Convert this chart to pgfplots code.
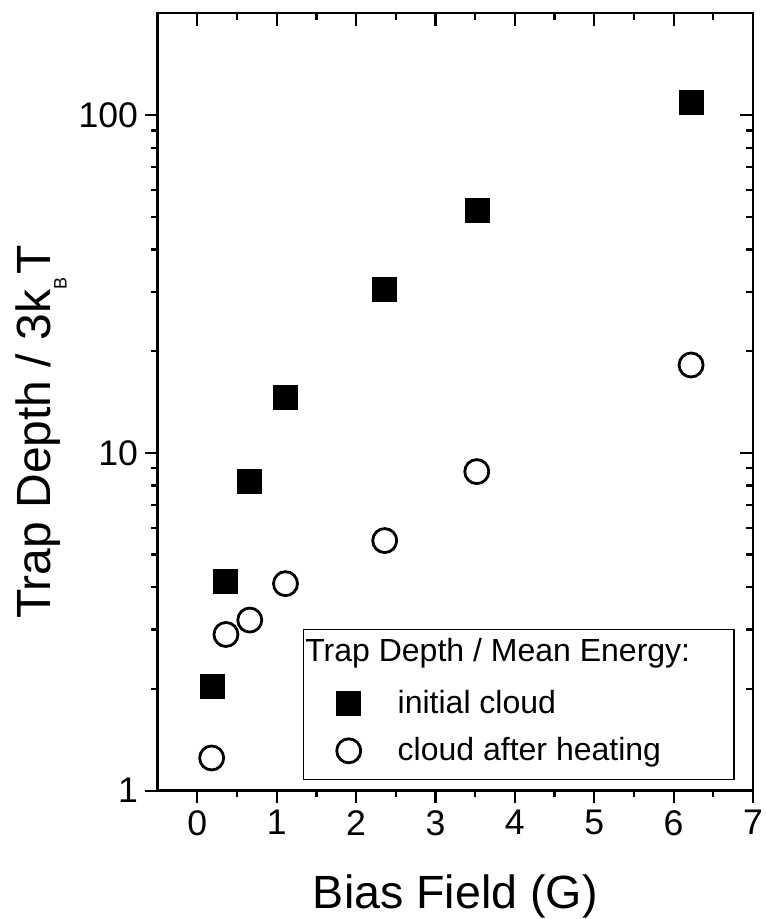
\documentclass[border=0pt]{standalone}
\usepackage{pgfplots}
\pgfplotsset{compat=1.18}
\usepackage{fontspec}
\setmainfont{Liberation Sans}

\pgfplotstableread{
x y
0.19 2.04
0.36 4.17
0.66 8.2
1.11 14.6
2.36 30.4
3.53 52
6.22 109
}\initial
\pgfplotstableread{
x y
0.18 1.25
0.36 2.9
0.66 3.2
1.11 4.1
2.36 5.5
3.52 8.8
6.22 18.2
}\heated

\pgfplotsset{
  myaxisopts/.style={
    at={(0pt,0pt)}, anchor=south west,
    scale only axis, width=297.65pt, height=388.7pt,
    xmin=-0.5, xmax=7, ymin=1, ymax=200,
    xtick={0,1,2,3,4,5,6,7}, minor x tick num=1,
    ytick={1,10,100},
    axis line style={line width=1.2pt},
    every tick/.style={line width=1.1pt, black},
    major tick length=6.3pt, minor tick length=3.3pt,
    /pgf/number format/assume math mode=true,
    log ticks with fixed point,
    tick label style={font=\fontsize{17.8}{21}\selectfont},
  }
}

\begin{document}
\begin{tikzpicture}
\path[use as bounding box] (-78.85pt,-64.15pt) rectangle (303.65pt,395.35pt);
\begin{semilogyaxis}[myaxisopts,
  xtick pos=top, ytick pos=right, tick align=inside,
  xticklabels={}, yticklabels={}]
\end{semilogyaxis}
\begin{semilogyaxis}[myaxisopts,
  xtick pos=bottom, ytick pos=left, tick align=outside,
  xlabel={Bias Field (G)},
  ylabel={Trap Depth / 3k\raisebox{-8.2pt}{\fontsize{9}{9}\selectfont B}\kern1.5pt T},
  x label style={font=\fontsize{23.3}{27}\selectfont, at={(axis description cs:0.5,0)}, anchor=base, yshift=-58.65pt},
  y label style={font=\fontsize{24}{28}\selectfont, at={(axis description cs:-0.1807,0.4614)}, anchor=base},
  legend style={draw=none, fill=none, at={(rel axis cs:0.29,0.0817)}, anchor=west,
    font=\fontsize{16}{19}\selectfont, row sep=6.5pt, column sep=16.5pt},
  legend cell align=left,
  legend image code/.code={\draw[#1] plot coordinates {(0pt,0pt)};},
]
\draw[line width=0.75pt] (rel axis cs:0.2446,0.01466) rectangle (rel axis cs:0.9681,0.2076);
\node[anchor=base west, inner sep=0pt, font=\fontsize{16}{19}\selectfont] at (rel axis cs:0.2474,0.1659) {Trap Depth / Mean Energy:};
\addplot[only marks, mark=square*, mark size=6pt, mark options={fill=black, draw=black, line width=0.5pt}] table[x=x,y=y] {\initial};
\addlegendentry{initial cloud}
\addplot[only marks, mark=o, mark size=6pt, mark options={draw=black, line width=1.4pt}] table[x=x,y=y] {\heated};
\addlegendentry{cloud after heating}
\end{semilogyaxis}
\end{tikzpicture}
\end{document}
